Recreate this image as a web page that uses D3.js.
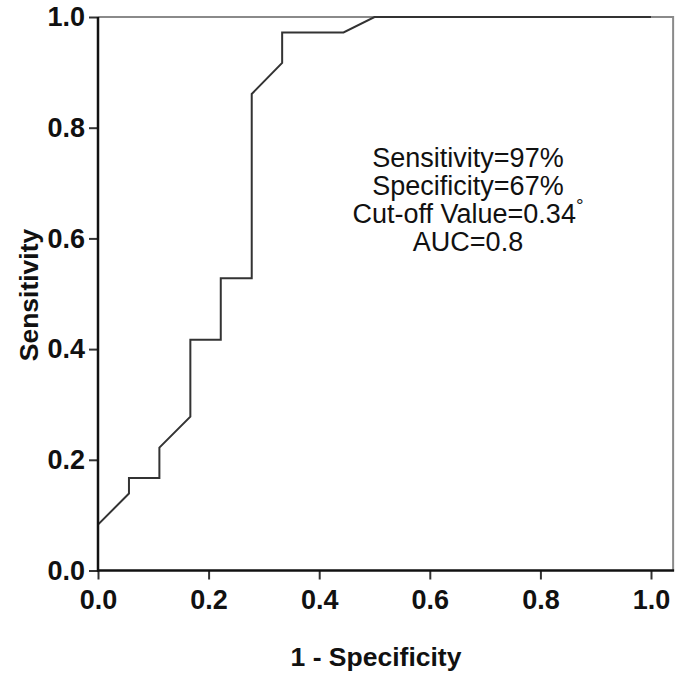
<!DOCTYPE html>
<html>
<head>
<meta charset="utf-8">
<script src="https://cdn.jsdelivr.net/npm/d3@7/dist/d3.min.js"></script>
<style>
  html, body { margin: 0; padding: 0; background: #fff; }
  svg { display: block; }
</style>
</head>
<body>
<svg id="chart" width="686" height="681"></svg>
<script>
// ROC curve data (1 - Specificity, Sensitivity)
const fpr = [0, 0, 0.056, 0.056, 0.111, 0.111, 0.167, 0.167, 0.222, 0.222, 0.278, 0.278, 0.333, 0.333, 0.444, 0.5, 1.0];
const tpr = [0, 0.083, 0.139, 0.167, 0.167, 0.222, 0.278, 0.417, 0.417, 0.528, 0.528, 0.861, 0.917, 0.972, 0.972, 1.0, 1.0];
const xTicks = [0, 0.2, 0.4, 0.6, 0.8, 1.0];
const yTicks = [0, 0.2, 0.4, 0.6, 0.8, 1.0];
const annotationLines = ["Sensitivity=97%", "Specificity=67%", "Cut-off Value=0.34", "AUC=0.8"];
const xTitle = "1 - Specificity";
const yTitle = "Sensitivity";

const svg = d3.select("#chart");
const x = d3.scaleLinear().domain([0, 1]).range([98, 651]);
const y = d3.scaleLinear().domain([0, 1]).range([570.5, 17]);
const xFrameMax = 1.04;

// frame (gray) top and right
svg.append("path")
  .attr("d", `M${x(0)},${y(1)}H${x(xFrameMax)}V${y(0)}`)
  .attr("fill", "none").attr("stroke", "#8a8a8a").attr("stroke-width", 2);

// ROC curve
const line = d3.line().x(d => x(d[0])).y(d => y(d[1]));
const pts = fpr.map((f, i) => [f, tpr[i]]);
svg.append("path")
  .attr("d", line(pts))
  .attr("fill", "none").attr("stroke", "#333").attr("stroke-width", 2)
  .attr("stroke-linejoin", "miter");

// axes
const fontTick = "'Liberation Sans', Arial, sans-serif";
const yAxis = d3.axisLeft(y).tickValues(yTicks).tickFormat(d3.format(".1f")).tickSize(9).tickPadding(4);
const gy = svg.append("g").attr("transform", `translate(${x(0)},0)`).call(yAxis);
const xAxis = d3.axisBottom(x).tickValues(xTicks).tickFormat(d3.format(".1f")).tickSize(9).tickPadding(10);
const gx = svg.append("g").attr("transform", `translate(0,${y(0)})`).call(xAxis);
[gx, gy].forEach(g => {
  g.select(".domain").remove();
  g.selectAll(".tick line").attr("stroke", "#333").attr("stroke-width", 2);
  g.selectAll(".tick text").attr("font-family", fontTick).attr("font-weight", "bold")
    .attr("font-size", 27).attr("fill", "#111");
});
// axis lines
svg.append("line").attr("x1", x(0)).attr("x2", x(0)).attr("y1", y(1)).attr("y2", y(0) + 1)
  .attr("stroke", "#111").attr("stroke-width", 2.5);
svg.append("line").attr("x1", x(0) - 1).attr("x2", x(xFrameMax) + 1).attr("y1", y(0)).attr("y2", y(0))
  .attr("stroke", "#111").attr("stroke-width", 2.5);

// axis titles
svg.append("text").attr("x", 376).attr("y", 666).attr("text-anchor", "middle")
  .attr("font-family", fontTick).attr("font-weight", "bold").attr("font-size", 26.5).attr("fill", "#111")
  .text(xTitle);
svg.append("text").attr("transform", "translate(38,295) rotate(-90)").attr("text-anchor", "middle")
  .attr("font-family", fontTick).attr("font-weight", "bold").attr("font-size", 26.5).attr("fill", "#111")
  .text(yTitle);

// annotation
const ann = svg.append("g").attr("font-family", fontTick).attr("font-size", 27).attr("fill", "#111")
  .attr("text-anchor", "middle");
annotationLines.forEach((t, i) => {
  const tx = ann.append("text").attr("x", 468).attr("y", 167 + i * 28).text(t);
  if (i === 2) {
    tx.append("tspan").attr("font-size", 19).attr("dy", -11).text("°");
  }
});
</script>
</body>
</html>
